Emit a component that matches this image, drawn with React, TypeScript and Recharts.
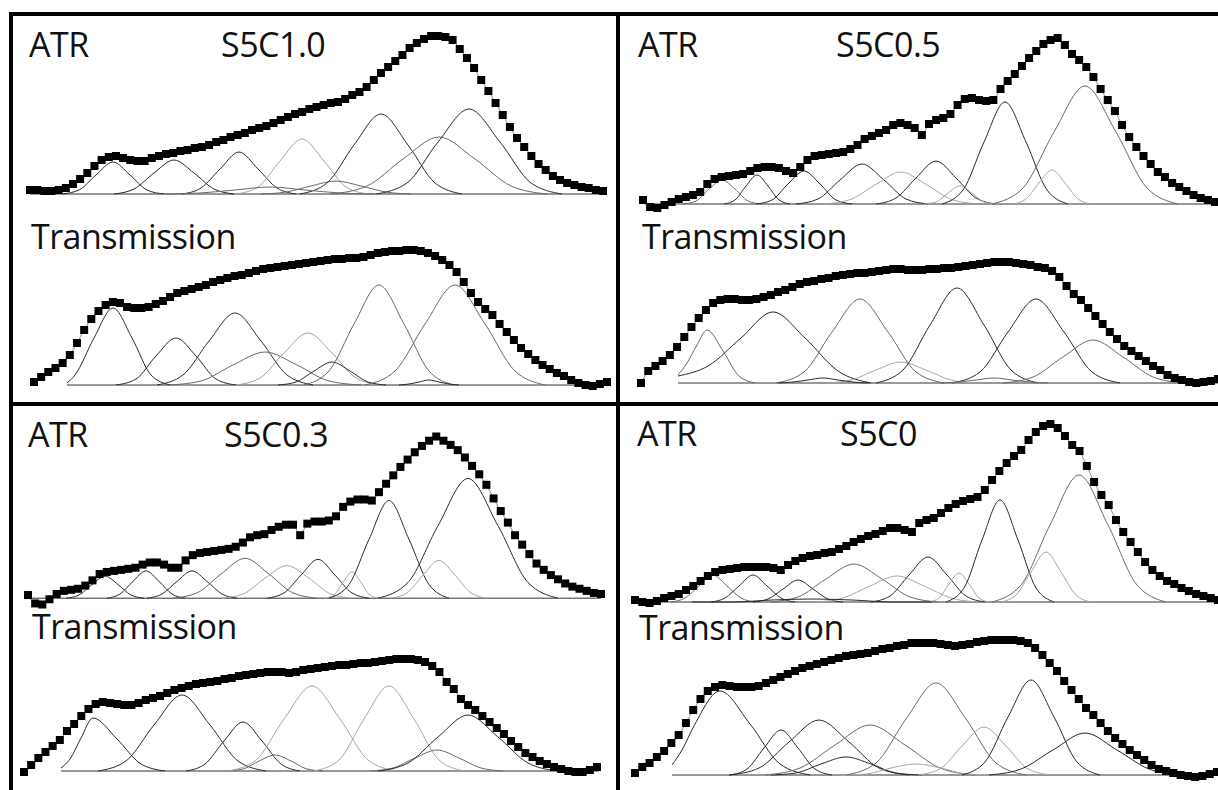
import { LineChart, Line, XAxis, YAxis } from "recharts";

type Pt = [number, number];
type Band = { tone: "d" | "m" | "l"; pts: Pt[] };

// measured absorbance, 81 evenly spaced channels per spectrum (a.u.)
const atr10 = [
  4, 4, 3, 3, 4, 6, 10, 15, 21, 28, 34, 37, 38, 36, 34, 33, 33, 36, 38, 40, 41, 43, 44, 46, 47, 49, 52, 54, 57, 59,
  61, 64, 66, 68, 71, 74, 77, 80, 82, 85, 87, 89, 91, 92, 95, 99, 102, 107, 114, 121, 127, 133, 139, 146, 151, 155,
  158, 158, 157, 154, 145, 136, 126, 114, 103, 91, 79, 67, 56, 47, 38, 30, 24, 18, 14, 11, 9, 7, 6, 4, 3,
];
const tra10 = [
  3, 8, 13, 17, 22, 30, 42, 55, 66, 74, 80, 83, 82, 78, 77, 77, 78, 81, 84, 88, 92, 94, 96, 98, 100, 103, 105, 107,
  109, 110, 112, 114, 116, 117, 118, 119, 120, 121, 122, 123, 124, 125, 126, 126, 127, 127, 128, 130, 132, 133, 134,
  134, 135, 135, 134, 132, 129, 125, 120, 113, 103, 92, 83, 76, 70, 61, 53, 45, 37, 31, 25, 20, 16, 12, 9, 5, 2, 0,
  -1, 1, 3,
];
const atr05 = [
  4, -3, -4, -1, 2, 5, 7, 9, 12, 20, 25, 27, 28, 29, 30, 33, 36, 37, 37, 36, 33, 31, 37, 44, 48, 49, 50, 51, 52, 55,
  59, 65, 68, 71, 74, 79, 81, 79, 76, 69, 80, 84, 86, 90, 99, 105, 106, 104, 103, 104, 115, 123, 130, 138, 146, 153,
  160, 164, 166, 159, 150, 144, 137, 127, 115, 104, 93, 79, 67, 57, 48, 40, 32, 27, 21, 17, 13, 9, 6, 4, 2,
];
const tra05 = [
  0, 12, 17, 22, 28, 36, 46, 56, 65, 73, 80, 83, 84, 84, 83, 83, 84, 86, 88, 91, 93, 96, 99, 101, 102, 104, 105, 107,
  108, 109, 110, 110, 111, 112, 113, 114, 114, 113, 113, 113, 114, 114, 115, 115, 116, 117, 118, 119, 120, 121, 121,
  121, 120, 119, 118, 116, 115, 112, 106, 97, 89, 83, 75, 67, 59, 51, 44, 37, 32, 27, 22, 17, 13, 8, 5, 3, 1, 0, 1,
  2, 4,
];
const atr03 = [
  3, -5, -6, -1, 4, 7, 8, 9, 12, 17, 23, 25, 26, 27, 28, 29, 32, 34, 34, 32, 29, 29, 36, 41, 43, 44, 45, 46, 47, 49,
  53, 58, 60, 61, 65, 68, 70, 70, 60, 71, 73, 73, 74, 78, 87, 92, 94, 94, 93, 101, 109, 117, 125, 132, 139, 145, 150,
  154, 150, 146, 141, 134, 126, 118, 108, 95, 83, 72, 60, 51, 42, 33, 27, 22, 18, 14, 11, 9, 7, 5, 4,
];
const tra03 = [
  -1, 6, 13, 19, 25, 31, 40, 47, 55, 62, 67, 69, 68, 67, 66, 66, 68, 71, 73, 75, 78, 81, 83, 85, 87, 88, 89, 90, 92,
  93, 95, 96, 97, 98, 99, 99, 99, 98, 99, 101, 102, 103, 104, 105, 106, 106, 107, 108, 108, 109, 110, 111, 112, 112,
  112, 111, 109, 105, 99, 89, 82, 72, 66, 61, 55, 49, 43, 37, 30, 24, 18, 14, 10, 7, 4, 2, 0, -1, -1, 1, 4,
];
const atr00 = [
  2, 0, -1, 1, 4, 6, 8, 12, 16, 21, 26, 30, 32, 33, 34, 35, 35, 35, 35, 34, 32, 37, 41, 44, 46, 47, 49, 50, 53, 56,
  60, 63, 66, 68, 71, 74, 74, 72, 70, 79, 82, 84, 89, 94, 98, 101, 103, 105, 112, 122, 131, 139, 146, 152, 162, 170,
  176, 178, 174, 166, 157, 151, 136, 120, 107, 97, 82, 70, 60, 50, 40, 32, 26, 21, 18, 14, 11, 8, 6, 4, 2,
];
const tra00 = [
  2, 8, 12, 18, 24, 32, 40, 52, 65, 76, 84, 88, 90, 89, 88, 88, 88, 89, 92, 95, 98, 101, 104, 107, 109, 111, 113, 115,
  117, 119, 120, 121, 122, 124, 126, 127, 129, 130, 132, 132, 132, 132, 131, 130, 129, 130, 131, 133, 134, 135, 135,
  135, 135, 134, 132, 127, 120, 112, 104, 94, 85, 76, 67, 60, 52, 44, 37, 31, 25, 20, 15, 10, 6, 4, 2, 0, -1, -2, -1,
  1, 3,
];

// fitted component bands, read as (position, intensity) pairs
const atr10Bands: Band[] = [
  { tone: "d", pts: [[32, 0], [49, 4], [66, 19], [83, 32], [100, 19], [117, 4], [134, 0]] },
  { tone: "d", pts: [[84, 0], [104, 5], [124, 21], [144, 34], [164, 21], [184, 5], [204, 0]] },
  { tone: "d", pts: [[152, 0], [171, 6], [190, 25], [209, 42], [228, 25], [247, 6], [266, 0]] },
  { tone: "l", pts: [[206, 0], [228, 7], [250, 33], [272, 55], [294, 33], [316, 7], [338, 0]] },
  { tone: "m", pts: [[231, 0], [256, 2], [281, 8], [306, 13], [331, 8], [356, 2], [381, 0]] },
  { tone: "d", pts: [[270, 0], [297, 11], [324, 49], [351, 80], [378, 49], [405, 11], [432, 0]] },
  { tone: "m", pts: [[301, 0], [337, 8], [373, 35], [409, 57], [445, 35], [481, 8], [517, 0]] },
  { tone: "d", pts: [[346, 0], [377, 11], [408, 52], [439, 85], [470, 52], [501, 11], [532, 0]] },
  { tone: "m", pts: [[135, 0], [170, 1], [205, 4], [240, 7], [275, 4], [310, 1], [345, 0]] },
];
const tra10Bands: Band[] = [
  { tone: "d", pts: [[33, 2], [41, 10], [60, 47], [79, 77], [98, 47], [117, 10], [136, 0]] },
  { tone: "d", pts: [[82, 0], [102, 6], [122, 29], [142, 47], [162, 29], [182, 6], [202, 0]] },
  { tone: "d", pts: [[123, 0], [149, 10], [175, 44], [201, 72], [227, 44], [253, 10], [279, 0]] },
  { tone: "m", pts: [[135, 0], [167, 4], [199, 20], [231, 33], [263, 20], [295, 4], [327, 0]] },
  { tone: "l", pts: [[202, 0], [226, 7], [250, 32], [274, 52], [298, 32], [322, 7], [346, 0]] },
  { tone: "d", pts: [[244, 0], [262, 3], [280, 14], [298, 23], [316, 14], [334, 3], [352, 0]] },
  { tone: "m", pts: [[270, 0], [295, 14], [320, 61], [345, 100], [370, 61], [395, 14], [420, 0]] },
  { tone: "m", pts: [[331, 0], [361, 14], [391, 61], [421, 100], [451, 61], [481, 14], [511, 0]] },
  { tone: "d", pts: [[365, 0], [375, 1], [385, 3], [395, 5], [405, 3], [415, 1], [425, 0]] },
];
const atr05Bands: Band[] = [
  { tone: "m", pts: [[40, 0], [53, 3], [66, 15], [79, 24], [92, 15], [105, 3], [118, 0]] },
  { tone: "d", pts: [[81, 0], [92, 4], [103, 18], [114, 29], [125, 18], [136, 4], [147, 0]] },
  { tone: "d", pts: [[113, 0], [129, 4], [145, 20], [161, 33], [177, 20], [193, 4], [209, 0]] },
  { tone: "d", pts: [[153, 0], [175, 5], [197, 24], [219, 40], [241, 24], [263, 5], [285, 0]] },
  { tone: "l", pts: [[180, 0], [206, 4], [232, 19], [258, 32], [284, 19], [310, 4], [336, 0]] },
  { tone: "d", pts: [[233, 0], [253, 6], [273, 26], [293, 43], [313, 26], [333, 6], [353, 0]] },
  { tone: "l", pts: [[281, 0], [293, 2], [305, 11], [317, 18], [329, 11], [341, 2], [353, 0]] },
  { tone: "d", pts: [[299, 0], [320, 14], [341, 62], [362, 102], [383, 62], [404, 14], [425, 0]] },
  { tone: "l", pts: [[370, 0], [383, 5], [396, 21], [409, 34], [422, 21], [435, 5], [448, 0]] },
  { tone: "m", pts: [[349, 0], [380, 16], [411, 72], [442, 118], [473, 72], [504, 16], [535, 0]] },
];
const tra05Bands: Band[] = [
  { tone: "m", pts: [[37, 8], [46, 20], [56, 38], [66, 53], [82, 32], [98, 7], [114, 0]] },
  { tone: "d", pts: [[37, 7], [67, 17], [100, 45], [132, 71], [164, 45], [197, 12], [230, 0]] },
  { tone: "m", pts: [[135, 0], [163, 11], [191, 51], [219, 84], [247, 51], [275, 11], [303, 0]] },
  { tone: "l", pts: [[185, 0], [210, 3], [235, 13], [260, 21], [285, 13], [310, 3], [335, 0]] },
  { tone: "d", pts: [[235, 0], [262, 13], [289, 58], [316, 95], [343, 58], [370, 13], [397, 0]] },
  { tone: "d", pts: [[311, 0], [339, 11], [367, 51], [395, 84], [423, 51], [451, 11], [479, 0]] },
  { tone: "m", pts: [[362, 0], [392, 6], [422, 26], [452, 43], [482, 26], [512, 6], [542, 0]] },
  { tone: "d", pts: [[137, 0], [152, 1], [167, 3], [182, 5], [197, 3], [212, 1], [227, 0]] },
  { tone: "m", pts: [[299, 0], [317, 1], [335, 3], [353, 5], [371, 3], [389, 1], [407, 0]] },
];
const atr03Bands: Band[] = [
  { tone: "d", pts: [[38, 0], [51, 3], [64, 13], [77, 21], [90, 13], [103, 3], [116, 0]] },
  { tone: "d", pts: [[79, 0], [92, 4], [105, 16], [118, 26], [131, 16], [144, 4], [157, 0]] },
  { tone: "d", pts: [[119, 0], [134, 4], [149, 16], [164, 26], [179, 16], [194, 4], [209, 0]] },
  { tone: "m", pts: [[145, 0], [169, 5], [193, 23], [217, 38], [241, 23], [265, 5], [289, 0]] },
  { tone: "l", pts: [[193, 0], [215, 4], [237, 19], [259, 31], [281, 19], [303, 4], [325, 0]] },
  { tone: "d", pts: [[239, 0], [256, 5], [273, 22], [290, 37], [307, 22], [324, 5], [341, 0]] },
  { tone: "l", pts: [[297, 0], [306, 3], [315, 15], [324, 25], [333, 15], [342, 3], [351, 0]] },
  { tone: "d", pts: [[301, 0], [321, 13], [341, 56], [361, 93], [381, 56], [401, 13], [421, 0]] },
  { tone: "l", pts: [[363, 0], [379, 5], [395, 22], [411, 36], [427, 22], [443, 5], [459, 0]] },
  { tone: "d", pts: [[350, 0], [380, 15], [410, 69], [440, 114], [470, 69], [500, 15], [530, 0]] },
];
const tra03Bands: Band[] = [
  { tone: "d", pts: [[37, 3], [46, 12], [57, 33], [69, 53], [93, 32], [117, 7], [141, 0]] },
  { tone: "d", pts: [[74, 0], [102, 10], [130, 46], [158, 76], [186, 46], [214, 10], [242, 0]] },
  { tone: "d", pts: [[162, 0], [181, 7], [200, 30], [219, 49], [238, 30], [257, 7], [276, 0]] },
  { tone: "m", pts: [[203, 0], [219, 2], [235, 10], [251, 16], [267, 10], [283, 2], [299, 0]] },
  { tone: "l", pts: [[204, 0], [232, 11], [260, 52], [288, 85], [316, 52], [344, 11], [372, 0]] },
  { tone: "l", pts: [[290, 0], [315, 11], [340, 52], [365, 85], [390, 52], [415, 11], [440, 0]] },
  { tone: "m", pts: [[347, 0], [369, 3], [391, 13], [413, 21], [435, 13], [457, 3], [479, 0]] },
  { tone: "d", pts: [[354, 0], [384, 8], [414, 34], [444, 56], [474, 34], [504, 8], [534, 0]] },
];
const atr00Bands: Band[] = [
  { tone: "m", pts: [[36, 0], [50, 4], [64, 16], [78, 27], [92, 16], [106, 4], [120, 0]] },
  { tone: "d", pts: [[76, 0], [90, 4], [104, 16], [118, 27], [132, 16], [146, 4], [160, 0]] },
  { tone: "d", pts: [[118, 0], [133, 3], [148, 13], [163, 22], [178, 13], [193, 3], [208, 0]] },
  { tone: "m", pts: [[135, 0], [163, 5], [191, 23], [219, 38], [247, 23], [275, 5], [303, 0]] },
  { tone: "l", pts: [[181, 0], [208, 4], [235, 16], [262, 26], [289, 16], [316, 4], [343, 0]] },
  { tone: "d", pts: [[236, 0], [255, 6], [274, 27], [293, 45], [312, 27], [331, 6], [350, 0]] },
  { tone: "l", pts: [[294, 0], [304, 4], [314, 18], [324, 29], [334, 18], [344, 4], [354, 0]] },
  { tone: "d", pts: [[311, 0], [329, 14], [347, 62], [365, 102], [383, 62], [401, 14], [419, 0]] },
  { tone: "l", pts: [[366, 0], [381, 7], [396, 30], [411, 50], [426, 30], [441, 7], [456, 0]] },
  { tone: "m", pts: [[357, 0], [386, 17], [415, 77], [444, 127], [473, 77], [502, 17], [531, 0]] },
  { tone: "d", pts: [[57, 0], [97, 0], [137, 2], [177, 3], [217, 2], [257, 0], [297, 0]] },
];
const tra00Bands: Band[] = [
  { tone: "d", pts: [[37, 10], [47, 25], [60, 51], [85, 84], [115, 51], [145, 11], [175, 0]] },
  { tone: "d", pts: [[95, 0], [112, 6], [129, 27], [146, 45], [163, 27], [180, 6], [197, 0]] },
  { tone: "d", pts: [[94, 0], [124, 7], [154, 33], [184, 55], [214, 33], [244, 7], [274, 0]] },
  { tone: "d", pts: [[136, 0], [161, 2], [186, 11], [211, 18], [236, 11], [261, 2], [286, 0]] },
  { tone: "m", pts: [[130, 0], [165, 7], [200, 30], [235, 50], [270, 30], [305, 7], [340, 0]] },
  { tone: "l", pts: [[206, 0], [231, 1], [256, 7], [281, 11], [306, 7], [331, 1], [356, 0]] },
  { tone: "m", pts: [[211, 0], [241, 12], [271, 56], [301, 92], [331, 56], [361, 12], [391, 0]] },
  { tone: "l", pts: [[283, 0], [305, 6], [327, 29], [349, 48], [371, 29], [393, 6], [415, 0]] },
  { tone: "d", pts: [[327, 0], [350, 13], [373, 58], [396, 95], [419, 58], [442, 13], [465, 0]] },
  { tone: "d", pts: [[354, 0], [386, 6], [418, 25], [450, 42], [482, 25], [514, 6], [546, 0]] },
];

const toneColor = { d: "#2a2a2a", m: "#6a6a6a", l: "#a6a6a6" };

const Square = (props: any) => {
  const { cx, cy, index } = props;
  if (cx == null || cy == null) return <g key={`s${index}`} />;
  return <rect key={`s${index}`} x={cx - 4} y={cy - 4} width={8} height={8} fill="#000" />;
};

interface SpecProps {
  left: number;
  baseY: number;
  span: number;
  values: number[];
  bands: Band[];
  base: [number, number];
  gain?: number;
}

function Spectrum({ left, baseY, span, values, bands, base, gain = 1 }: SpecProps) {
  const pad = 6;
  const hi = Math.max(...values) + 10;
  const lo = -12;
  const step = span / (values.length - 1);
  const pts = values.map((y, i) => ({ x: i * step, y }));
  return (
    <div style={{ position: "absolute", left: left - pad, top: baseY - hi * gain }}>
      <LineChart width={span + pad * 2} height={(hi - lo) * gain} margin={{ top: 0, right: 0, bottom: 0, left: 0 }}>
        <XAxis type="number" dataKey="x" domain={[-pad, span + pad]} hide allowDataOverflow />
        <YAxis type="number" domain={[lo, hi]} hide allowDataOverflow />
        <Line
          data={base.map((x) => ({ x, y: 0 }))}
          dataKey="y"
          stroke="#333"
          strokeWidth={1}
          dot={false}
          isAnimationActive={false}
        />
        {bands.map((b, k) => (
          <Line
            key={k}
            data={b.pts.map(([x, y]) => ({ x, y }))}
            type="monotone"
            dataKey="y"
            stroke={toneColor[b.tone]}
            strokeWidth={1}
            dot={false}
            isAnimationActive={false}
          />
        ))}
        <Line data={pts} dataKey="y" stroke="none" dot={Square} isAnimationActive={false} />
        <Line
          data={pts}
          type="monotone"
          dataKey="y"
          stroke="#8a8a8a"
          strokeWidth={1}
          dot={false}
          isAnimationActive={false}
        />
      </LineChart>
    </div>
  );
}

const labels = [
  { t: "ATR", x: 29, y: 57 },
  { t: "S5C1.0", x: 221, y: 57 },
  { t: "Transmission", x: 31, y: 249 },
  { t: "ATR", x: 638, y: 57 },
  { t: "S5C0.5", x: 836, y: 57 },
  { t: "Transmission", x: 642, y: 249 },
  { t: "ATR", x: 28, y: 447 },
  { t: "S5C0.3", x: 224, y: 447 },
  { t: "Transmission", x: 32, y: 639 },
  { t: "ATR", x: 637, y: 446 },
  { t: "S5C0", x: 840, y: 446 },
  { t: "Transmission", x: 639, y: 640 },
];

export default function App() {
  return (
    <div
      style={{
        position: "absolute",
        left: 0,
        top: 0,
        width: 1218,
        height: 790,
        background: "#fff",
        overflow: "hidden",
      }}
    >
      <Spectrum left={30} baseY={194} span={573} values={atr10} bands={atr10Bands} base={[0, 573]} />
      <Spectrum left={34} baseY={385} span={573} values={tra10} bands={tra10Bands} base={[33, 566]} />
      <Spectrum left={643} baseY={204} span={572} values={atr05} bands={atr05Bands} base={[2, 575]} />
      <Spectrum left={641} baseY={383} span={577} values={tra05} bands={tra05Bands} base={[37, 577]} />
      <Spectrum left={28} baseY={598} span={573} values={atr03} bands={atr03Bands} base={[0, 573]} gain={1.05} />
      <Spectrum left={24} baseY={771} span={573} values={tra03} bands={tra03Bands} base={[37, 575]} />
      <Spectrum left={635} baseY={602} span={583} values={atr00} bands={atr00Bands} base={[2, 583]} />
      <Spectrum left={635} baseY={775} span={582} values={tra00} bands={tra00Bands} base={[37, 582]} />
      <svg width={1218} height={790} style={{ position: "absolute", left: 0, top: 0, pointerEvents: "none" }}>
        <rect x={9} y={12} width={1209} height={4} fill="#000" />
        <rect x={9} y={12} width={4} height={778} fill="#000" />
        <rect x={616} y={12} width={4} height={778} fill="#000" />
        <rect x={9} y={402} width={1209} height={4} fill="#000" />
        {labels.map((l, i) => (
          <text
            key={i}
            x={l.x}
            y={l.y}
            fontFamily="'Open Sans', sans-serif"
            fontSize={34}
            letterSpacing={-0.5}
            fill="#111"
          >
            {l.t}
          </text>
        ))}
      </svg>
    </div>
  );
}
